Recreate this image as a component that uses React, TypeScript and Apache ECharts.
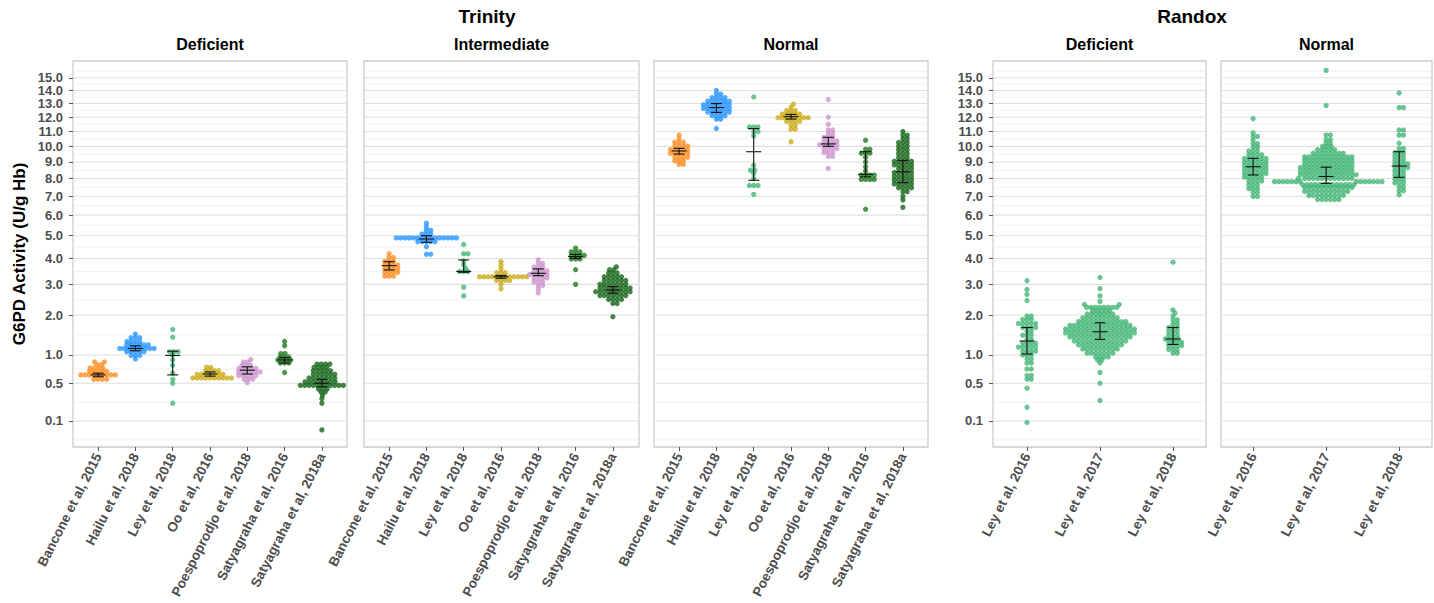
import React, { useEffect, useRef } from 'react';
import * as echarts from 'echarts';

// ---------- data ----------
const trinityStudies = [
  'Bancone et al, 2015',
  'Hailu et al, 2018',
  'Ley et al, 2018',
  'Oo et al, 2016',
  'Poespoprodjo et al, 2018',
  'Satyagraha et al, 2016',
  'Satyagraha et al, 2018a',
];
const randoxStudies = ['Ley et al, 2016', 'Ley et al, 2017', 'Ley et al, 2018'];
const trinityColors = ['#FF8A1C', '#1E90FF', '#3CB371', '#C9A80F', '#CC8FCC', '#1F7A1F', '#17661A'];
const randoxColors = ['#3CB371', '#3CB371', '#3CB371'];

const yTickValues = [0.1, 0.5, 1, 2, 3, 4, 5, 6, 7, 8, 9, 10, 11, 12, 13, 14, 15];

// each study: list of [G6PD activity, number of samples at that value]
const trinityDeficientBins = [
  [[0.56, 4], [0.63, 9], [0.69, 5], [0.75, 4], [0.81, 2], [0.86, 2]],
  [[0.92, 1], [0.99, 3], [1.07, 5], [1.14, 9], [1.22, 6], [1.3, 4], [1.39, 3], [1.48, 1]],
  [[0.25, 1], [0.5, 1], [0.56, 1], [0.66, 1], [0.8, 1], [0.9, 1], [1.0, 1], [1.07, 3], [1.4, 1], [1.6, 1]],
  [[0.58, 10], [0.64, 7], [0.7, 4], [0.76, 2]],
  [[0.51, 1], [0.56, 3], [0.62, 5], [0.68, 6], [0.74, 5], [0.8, 3], [0.86, 2], [0.91, 1]],
  [[0.67, 1], [0.84, 3], [0.9, 4], [0.96, 3], [1.03, 2], [1.2, 1], [1.3, 1]],
  [[0.05, 1], [0.25, 1], [0.3, 1], [0.34, 1], [0.38, 2], [0.42, 3], [0.47, 11], [0.52, 8], [0.58, 7], [0.64, 6], [0.7, 5], [0.76, 4], [0.82, 4]],
];
const trinityIntermediateBins = [
  [[3.3, 3], [3.44, 4], [3.58, 4], [3.73, 4], [3.88, 3], [4.04, 2], [4.2, 1]],
  [[4.18, 2], [4.5, 1], [4.73, 5], [4.9, 15], [5.08, 3], [5.25, 2], [5.42, 1], [5.6, 1]],
  [[2.6, 1], [2.9, 1], [3.48, 3], [3.6, 1], [3.75, 1], [3.9, 1], [4.2, 2], [4.6, 1]],
  [[2.84, 1], [3.0, 1], [3.14, 4], [3.28, 12], [3.43, 3], [3.58, 1], [3.72, 1], [3.87, 1]],
  [[2.7, 1], [2.83, 1], [2.96, 2], [3.09, 3], [3.23, 4], [3.37, 5], [3.51, 4], [3.65, 3], [3.8, 2], [3.95, 1]],
  [[3.0, 1], [3.55, 1], [3.98, 3], [4.13, 4], [4.28, 3], [4.44, 1]],
  [[1.95, 1], [2.35, 2], [2.48, 4], [2.61, 7], [2.74, 9], [2.87, 8], [3.0, 7], [3.14, 6], [3.28, 5], [3.42, 3], [3.55, 2], [3.66, 1]],
];
const trinityNormalBins = [
  [[8.85, 2], [9.07, 3], [9.3, 4], [9.54, 5], [9.78, 5], [10.02, 4], [10.27, 3], [10.52, 1], [10.76, 1]],
  [[11.2, 1], [11.85, 2], [12.1, 4], [12.37, 6], [12.64, 7], [12.91, 7], [13.18, 6], [13.45, 4], [13.72, 2], [14.0, 1]],
  [[7.1, 1], [7.6, 3], [8.0, 1], [8.3, 1], [8.5, 2], [8.8, 1], [10.7, 1], [11.0, 2], [11.3, 3], [13.5, 1]],
  [[10.3, 1], [11.15, 2], [11.42, 2], [11.7, 4], [11.96, 8], [12.22, 5], [12.48, 3], [12.74, 1], [12.95, 1]],
  [[8.6, 1], [9.35, 2], [9.6, 3], [9.85, 4], [10.1, 5], [10.35, 4], [10.6, 3], [10.85, 2], [11.1, 2], [11.5, 1], [12.0, 1], [13.3, 1]],
  [[6.3, 1], [7.95, 4], [8.2, 4], [8.45, 1], [8.7, 1], [9.0, 1], [9.3, 1], [9.55, 3], [9.8, 2], [10.4, 1]],
  [[6.4, 1], [6.8, 1], [7.0, 1], [7.25, 2], [7.47, 4], [7.69, 5], [7.91, 5], [8.13, 5], [8.36, 5], [8.59, 4], [8.82, 5], [9.05, 5], [9.28, 3], [9.52, 3], [9.76, 3], [10.0, 3], [10.25, 3], [10.5, 2], [10.75, 2], [11.0, 1]],
];
const randoxDeficientBins = [
  [[0.09, 1], [0.21, 1], [0.43, 1], [0.56, 2], [0.62, 2], [0.73, 2], [0.84, 2], [0.92, 2], [1.0, 3], [1.08, 4], [1.17, 5], [1.26, 4], [1.35, 2], [1.45, 3], [1.55, 2], [1.65, 4], [1.76, 5], [1.87, 3], [1.97, 2], [2.45, 1], [2.65, 1], [2.82, 1], [3.13, 1]],
  [[0.28, 1], [0.5, 1], [0.67, 1], [0.84, 1], [0.9, 2], [0.96, 4], [1.04, 7], [1.13, 9], [1.22, 11], [1.31, 13], [1.41, 15], [1.51, 17], [1.61, 17], [1.71, 15], [1.81, 12], [1.92, 9], [2.03, 7], [2.13, 5], [2.23, 8], [2.32, 2], [2.42, 1], [2.6, 1], [2.85, 1], [3.25, 1]],
  [[1.04, 2], [1.12, 3], [1.2, 4], [1.28, 4], [1.36, 4], [1.45, 3], [1.55, 3], [1.65, 3], [1.75, 2], [1.86, 2], [1.97, 1], [2.06, 1], [2.15, 1], [3.85, 1]],
];
const randoxNormalBins = [
  [[6.98, 2], [7.2, 2], [7.42, 3], [7.64, 3], [7.86, 4], [8.08, 5], [8.3, 6], [8.53, 6], [8.76, 6], [8.99, 6], [9.22, 6], [9.46, 4], [9.7, 3], [9.94, 2], [10.18, 2], [10.42, 1], [10.66, 2], [10.9, 1], [11.9, 1]],
  [[6.82, 6], [7.04, 9], [7.26, 11], [7.48, 12], [7.65, 13], [7.82, 14], [8.0, 13], [8.22, 14], [8.44, 13], [8.66, 13], [8.88, 12], [9.1, 12], [9.32, 12], [9.55, 8], [9.78, 5], [10.0, 3], [10.22, 2], [10.45, 2], [10.76, 2], [12.85, 1], [15.6, 1]],
  [[7.08, 1], [7.3, 2], [7.52, 2], [7.75, 3], [7.98, 3], [8.2, 3], [8.43, 3], [8.66, 4], [8.89, 4], [9.12, 3], [9.36, 3], [9.6, 3], [9.85, 2], [10.2, 1], [10.75, 2], [11.1, 2], [12.7, 2], [13.8, 1]],
];

// error bars: [lower, centre, upper]
const trinityDeficientBars = [[0.6, 0.63, 0.66], [1.09, 1.14, 1.2], [0.63, 0.99, 1.08], [0.61, 0.645, 0.68], [0.645, 0.71, 0.77], [0.84, 0.9, 0.95], [0.45, 0.5, 0.56]];
const trinityIntermediateBars = [[3.54, 3.71, 3.87], [4.7, 4.85, 5.0], [3.45, 3.48, 3.94], [3.22, 3.28, 3.33], [3.32, 3.41, 3.58], [4.0, 4.08, 4.17], [2.69, 2.8, 2.92]];
const trinityNormalBars = [[9.5, 9.7, 9.87], [12.35, 12.7, 13.0], [7.9, 9.65, 11.2], [11.87, 12.04, 12.2], [10.0, 10.16, 10.6], [8.1, 8.25, 9.65], [7.76, 8.4, 9.1]];
const randoxDeficientBars = [[1.02, 1.31, 1.65], [1.35, 1.54, 1.78], [1.23, 1.36, 1.65]];
const randoxNormalBars = [[8.21, 8.71, 9.23], [7.72, 8.12, 8.68], [8.07, 8.75, 9.65]];

// ---------- layout ----------
const FONT = '"Liberation Sans", Arial, Helvetica, sans-serif';
const GRID_TOP = 61;
const GRID_HEIGHT = 386;
const Y_MIN = 0.0466;
const Y_MAX = 4.0466;
const DOT = 5.3;
const GAP = 4.3;
const Y_SPREAD = 1.25; // vertical weighting used by the swarm packing
const LABEL_ROTATE = 63;

const panels = [
  { strip: 'Deficient', left: 73, width: 274, xMin: -0.673, xMax: 6.673, names: trinityStudies, colors: trinityColors, bins: trinityDeficientBins, bars: trinityDeficientBars, showY: true },
  { strip: 'Intermediate', left: 364, width: 275, xMin: -0.673, xMax: 6.7, names: trinityStudies, colors: trinityColors, bins: trinityIntermediateBins, bars: trinityIntermediateBars, showY: false },
  { strip: 'Normal', left: 654, width: 274, xMin: -0.673, xMax: 6.673, names: trinityStudies, colors: trinityColors, bins: trinityNormalBins, bars: trinityNormalBars, showY: false },
  { strip: 'Deficient', left: 993, width: 213, xMin: -0.466, xMax: 2.452, names: randoxStudies, colors: randoxColors, bins: randoxDeficientBins, bars: randoxDeficientBars, showY: true },
  { strip: 'Normal', left: 1221, width: 211, xMin: -0.44, xMax: 2.45, names: randoxStudies, colors: randoxColors, bins: randoxNormalBins, bars: randoxNormalBars, showY: false },
];

function swarmOffsets(ys: number[], d: number): number[] {
  const px: number[] = [];
  const py: number[] = [];
  for (let i = 0; i < ys.length; i++) {
    const y = ys[i];
    const near: number[] = [];
    for (let j = 0; j < py.length; j++) if (Math.abs(py[j] - y) < d) near.push(j);
    const cands: number[] = [0];
    for (const j of near) {
      const dy = py[j] - y;
      const dx = Math.sqrt(Math.max(0, d * d - dy * dy));
      cands.push(px[j] + dx, px[j] - dx);
    }
    cands.sort((a, b) => Math.abs(a) - Math.abs(b));
    let chosen = 0;
    for (const c of cands) {
      let ok = true;
      for (const j of near) {
        const dx = px[j] - c;
        const dy = py[j] - y;
        if (dx * dx + dy * dy < d * d - 1e-6) { ok = false; break; }
      }
      if (ok) { chosen = c; break; }
    }
    px.push(chosen);
    py.push(y);
  }
  return px;
}

function textEl(text: string, x: number, y: number, size: number, extra: any = {}) {
  return {
    type: 'text', x, y, silent: true, ...extra,
    style: { text, fill: '#000000', font: `bold ${size}px ${FONT}`, align: 'center', verticalAlign: 'middle', textAlign: 'center', textVerticalAlign: 'middle' },
  };
}

function buildOption() {
  const pxPerY = GRID_HEIGHT / (Y_MAX - Y_MIN);
  const tickS = yTickValues.map((v) => Math.sqrt(v));
  const minorS: number[] = [];
  minorS.push(tickS[0] - (tickS[1] - tickS[0]) / 2);
  for (let i = 0; i < tickS.length - 1; i++) minorS.push((tickS[i] + tickS[i + 1]) / 2);
  minorS.push(tickS[tickS.length - 1] + (tickS[tickS.length - 1] - tickS[tickS.length - 2]) / 2);
  const gridData = [...tickS.map((s) => [0, s, 1]), ...minorS.map((s) => [0, s, 0])];
  // empty sentinel labels at the axis ends keep the real first / last labels from being auto-hidden
  const labelS = [Y_MIN, ...tickS, Y_MAX];

  const grid: any[] = [];
  const xAxis: any[] = [];
  const yAxis: any[] = [];
  const series: any[] = [];
  const graphic: any[] = [];

  panels.forEach((p, pi) => {
    const pxPerX = p.width / (p.xMax - p.xMin);
    const idxs = p.names.map((_, i) => i);
    grid.push({ left: p.left, top: GRID_TOP, width: p.width, height: GRID_HEIGHT, show: true, backgroundColor: '#ffffff', borderColor: '#CDCDCD', borderWidth: 1.3 });
    xAxis.push({
      type: 'value', gridIndex: pi, min: p.xMin, max: p.xMax,
      axisLine: { show: false, onZero: false }, splitLine: { show: false },
      axisTick: { show: true, customValues: idxs, length: 4, lineStyle: { color: '#555555', width: 1 } },
      axisLabel: {
        customValues: idxs, rotate: LABEL_ROTATE, margin: 7, color: '#4D4D4D', fontSize: 13.5, fontWeight: 'bold', fontFamily: FONT,
        showMinLabel: true, showMaxLabel: true,
        formatter: (v: number) => p.names[Math.round(v)] ?? '',
      },
    });
    yAxis.push({
      type: 'value', gridIndex: pi, min: Y_MIN, max: Y_MAX,
      axisLine: { show: false, onZero: false }, splitLine: { show: false },
      axisTick: { show: p.showY, customValues: tickS, length: 4, lineStyle: { color: '#555555', width: 1 } },
      axisLabel: {
        show: p.showY, customValues: labelS, margin: 10, color: '#4D4D4D', fontSize: 13, lineHeight: 11, fontWeight: 'bold', fontFamily: FONT,
        hideOverlap: false,
        formatter: (v: number) => {
          const t = yTickValues.find((tv) => Math.abs(Math.sqrt(tv) - v) < 1e-6);
          return t === undefined ? '' : t.toFixed(1);
        },
      },
    });
    // gridlines
    series.push({
      type: 'custom', xAxisIndex: pi, yAxisIndex: pi, silent: true, z: 1, data: gridData,
      renderItem: (params: any, api: any) => {
        const cs = params.coordSys;
        const y = api.coord([0, api.value(1)])[1];
        const major = api.value(2) === 1;
        return {
          type: 'line',
          shape: { x1: cs.x, y1: y, x2: cs.x + cs.width, y2: y },
          style: { stroke: major ? '#E0E0E0' : '#EDEDED', lineWidth: major ? 1.1 : 0.8 },
        };
      },
    });
    // beeswarm points
    p.bins.forEach((bins: number[][], si: number) => {
      const vals: number[] = [];
      bins.forEach(([v, c]) => { for (let k = 0; k < c; k++) vals.push(v); });
      vals.sort((a, b) => a - b);
      const offs = swarmOffsets(vals.map((v) => Math.sqrt(v) * pxPerY * Y_SPREAD), GAP);
      const data = vals.map((v, k) => [si + offs[k] / pxPerX, Math.sqrt(v)]);
      const color = p.colors[si];
      const dark = si >= 5 && p.names.length === 7;
      series.push({
        type: 'scatter', xAxisIndex: pi, yAxisIndex: pi, silent: true, z: 3,
        symbolSize: DOT, data,
        itemStyle: { color, opacity: dark ? 0.8 : 0.76 },
      });
    });
    // error bars
    series.push({
      type: 'custom', xAxisIndex: pi, yAxisIndex: pi, silent: true, z: 5,
      data: p.bars.map((b: number[], i: number) => [i, Math.sqrt(b[0]), Math.sqrt(b[1]), Math.sqrt(b[2])]),
      renderItem: (params: any, api: any) => {
        const x = api.value(0);
        const lo = api.coord([x, api.value(1)]);
        const mid = api.coord([x, api.value(2)]);
        const hi = api.coord([x, api.value(3)]);
        const cap = 5.5;
        const mw = 7.5;
        const st = { stroke: '#111111', lineWidth: 1.1 };
        return {
          type: 'group',
          children: [
            { type: 'line', shape: { x1: lo[0], y1: lo[1], x2: hi[0], y2: hi[1] }, style: st },
            { type: 'line', shape: { x1: lo[0] - cap, y1: lo[1], x2: lo[0] + cap, y2: lo[1] }, style: st },
            { type: 'line', shape: { x1: hi[0] - cap, y1: hi[1], x2: hi[0] + cap, y2: hi[1] }, style: st },
            { type: 'line', shape: { x1: mid[0] - mw, y1: mid[1], x2: mid[0] + mw, y2: mid[1] }, style: st },
          ],
        };
      },
    });
    graphic.push(textEl(p.strip, p.left + p.width / 2, 44, 16));
  });

  graphic.push(textEl('Trinity', 487, 16, 19));
  graphic.push(textEl('Randox', 1192, 16, 19));
  graphic.push(textEl('G6PD Activity (U/g Hb)', 19, 254, 17, { rotation: Math.PI / 2 }));

  return { animation: false, backgroundColor: '#ffffff', grid, xAxis, yAxis, series, graphic };
}

export default function App() {
  const ref = useRef<HTMLDivElement>(null);
  useEffect(() => {
    if (!ref.current) return;
    const chart = echarts.init(ref.current, undefined, { renderer: 'svg' });
    chart.setOption(buildOption() as any);
    return () => chart.dispose();
  }, []);
  return <div ref={ref} style={{ position: 'absolute', left: 0, top: 0, width: 1434, height: 603 }} />;
}
